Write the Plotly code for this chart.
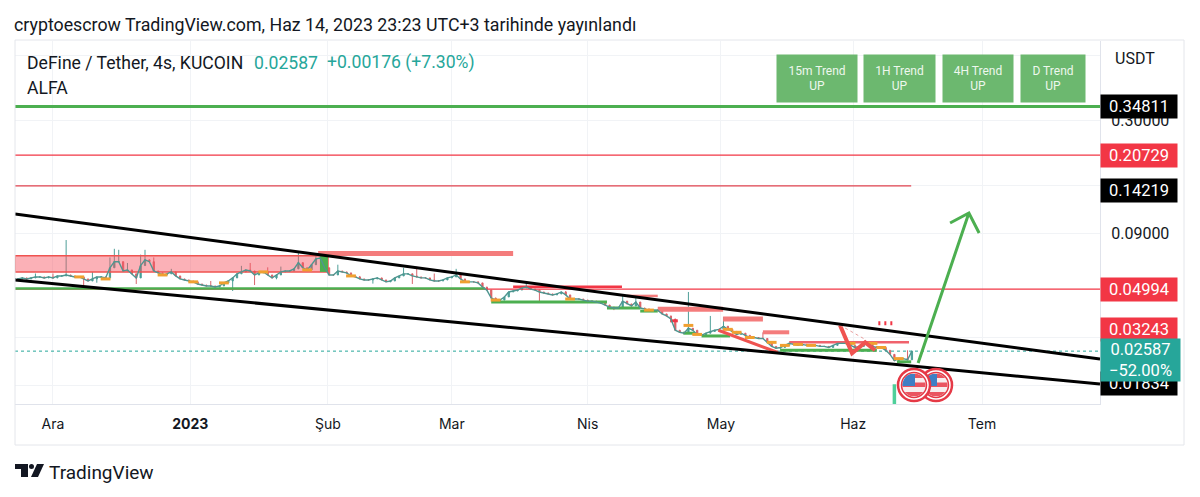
import math
import pandas as pd
import plotly.graph_objects as go

GREEN = '#4caf50'
RED = '#f23645'
TEAL = '#26a69a'
INK = '#131722'

# daily closes, Nov 23 2022 -> Jun 14 2023
closes = [
    .0557, .0563, .0557, .0563, .0569, .0569, .0563, .0569, .0563, .0575,
    .0575, .0581, .0575, .0569, .0569, .0557, .0545, .0557, .0569, .0569,
    .0563, .0627, .0669, .0669, .0606, .0613, .0588, .0563, .0642, .0682,
    .0669, .0606, .0594, .0581, .0588, .0600, .0575, .0557, .0551, .0545,
    .0540, .0528, .0522, .0517, .0517, .0511, .0517, .0534, .0545, .0563,
    .0588, .0600, .0613, .0606, .0581, .0594, .0600, .0581, .0563, .0581,
    .0600, .0606, .0606, .0620, .0662, .0627, .0613, .0648, .0689, .0695,
    .0627, .0581, .0581, .0606, .0600, .0594, .0575, .0569, .0557, .0551,
    .0551, .0557, .0563, .0551, .0540, .0545, .0563, .0575, .0588, .0588,
    .0575, .0569, .0563, .0563, .0551, .0545, .0545, .0551, .0563, .0569,
    .0581, .0557, .0540, .0540, .0540, .0534, .0511, .0495, .0455, .0445,
    .0445, .0460, .0485, .0490, .0495, .0506, .0511, .0500, .0495, .0485,
    .0480, .0475, .0470, .0475, .0485, .0470, .0450, .0450, .0450, .0445,
    .0440, .0440, .0436, .0431, .0422, .0413, .0409, .0409, .0440, .0427,
    .0418, .0436, .0409, .0405, .0400, .0400, .0400, .0384, .0376, .0364,
    .0323, .0316, .0313, .0330, .0323, .0309, .0306, .0313, .0319, .0323,
    .0326, .0337, .0326, .0319, .0309, .0313, .0306, .0299, .0299, .0296,
    .0296, .0284, .0272, .0267, .0269, .0275, .0281, .0278, .0275, .0278,
    .0275, .0275, .0275, .0272, .0272, .0269, .0275, .0281, .0281, .0281,
    .0275, .0269, .0272, .0278, .0281, .0272, .0269, .0269, .0261, .0250,
    .0234, .0239, .0239, .0236, .02587,
]
dates = list(pd.date_range('2022-11-23', periods=len(closes), freq='D'))

wick_highs = {'2022-11-27': .0590, '2022-12-01': .0590, '2022-12-04': .0842, '2022-12-10': .0600,
              '2022-12-14': .0700, '2022-12-15': .0767, '2022-12-16': .0759, '2022-12-18': .0660,
              '2022-12-21': .0721, '2022-12-22': .0759, '2022-12-24': .0700, '2022-12-28': .0620,
              '2023-01-06': .0545, '2023-01-13': .0640, '2023-01-15': .0660, '2023-01-19': .0630,
              '2023-01-22': .0635, '2023-01-26': .0743, '2023-01-30': .0730, '2023-01-31': .0743,
              '2023-02-04': .0648, '2023-02-09': .0575, '2023-02-19': .0627, '2023-02-22': .0634,
              '2023-02-26': .0590, '2023-03-03': .0620, '2023-03-08': .0530, '2023-03-19': .0535,
              '2023-03-28': .0490, '2023-04-10': .0465, '2023-04-13': .0460, '2023-04-25': .0485,
              '2023-04-30': .0376, '2023-05-03': .0372, '2023-05-12': .0316, '2023-06-14': .0261}
wick_lows = {'2022-12-08': .0517, '2022-12-11': .0535, '2022-12-20': .0528, '2023-01-11': .0490,
             '2023-01-16': .0522, '2023-01-21': .0555, '2023-02-12': .0530, '2023-02-21': .0528,
             '2023-03-22': .0436, '2023-04-08': .0400}

orange_dates = ['2022-12-07', '2022-12-13', '2022-12-26', '2023-01-02', '2023-01-09', '2023-01-18',
                '2023-01-28', '2023-02-07', '2023-03-05', '2023-03-12', '2023-03-29', '2023-04-16',
                '2023-04-25', '2023-04-27', '2023-05-04', '2023-05-06', '2023-05-09', '2023-05-14',
                '2023-05-17', '2023-05-20', '2023-05-23', '2023-06-01', '2023-06-06', '2023-06-08',
                '2023-06-12']
orange_prices = [.0569, .0557, .0581, .0540, .0534, .0600, .0613, .0575, .0540, .0445, .0450, .0400,
                 .0340, .0309, .0326, .0316, .0299, .0284, .0275, .0278, .0275, .0281, .0281, .0269,
                 .0239]

start = '2022-11-22 08:00'
end = '2023-07-27 22:00'

upper_channel = [.1110, .0238]
lower_channel = [.0551, .01825]

# dates, prices, colour, width
red_bars = [
    (['2023-01-30 12:00', '2023-03-16'], [.0730, .0730], '#f47c7c', 5),
    (['2023-03-16', '2023-04-09 20:00'], [.0512, .0512], RED, 2.5),
    (['2023-04-11', '2023-04-18'], [.0465, .0465], '#f47c7c', 2.5),
    (['2023-04-18', '2023-05-02 22:00'], [.0404, .0404], '#f47c7c', 5),
    (['2023-04-20 20:00', '2023-04-22 14:00'], [.0357, .0357], RED, 3),
    (['2023-05-02 22:00', '2023-05-12'], [.0364, .0364], '#f47c7c', 5),
    (['2023-05-12', '2023-05-18'], [.0316, .0316], '#f47c7c', 4),
    (['2023-05-18', '2023-06-14 08:00'], [.0284, .0284], '#f0626c', 2.5),
]
green_bars = [
    (['2023-03-11', '2023-04-06 10:00'], [.0436, .0436]),
    (['2023-04-06 10:00', '2023-04-14'], [.0409, .0409]),
    (['2023-04-14', '2023-04-18'], [.0396, .0396]),
    (['2023-04-23 20:00', '2023-04-26 12:00'], [.0313, .0313]),
    (['2023-04-28', '2023-05-04 12:00'], [.0304, .0304]),
    (['2023-05-15 22:00', '2023-06-07'], [.0261, .0261]),
    (['2023-06-11 14:00', '2023-06-14 20:00'], [.0231, .0231]),
]
slide_dates = ['2023-05-01 20:00', '2023-05-15 10:00']
slide_prices = [.0323, .0255]
zigzag_dates = ['2023-05-29 14:00', '2023-06-01 08:00', '2023-06-04 08:00', '2023-06-06 14:00']
zigzag_prices = [.0341, .0253, .0284, .0261]
arrow_dates = ['2023-06-16 10:00', '2023-06-28', '2023-06-23 17:00', '2023-06-28', '2023-06-30 08:00']
arrow_prices = [.0228, .1122, .1009, .1122, .0907]

levels = [.20729, .04994]
upper_level = .1495
tag_values = ['0.34811', '0.20729', '0.14219', '0.04994', '0.03243', '0.01834']
tag_colors = ['#000000', RED, '#000000', RED, RED, '#000000']
tick_dates = ['2022-12-01', '2023-01-01 08:00', '2023-02-01 18:00', '2023-03-02',
              '2023-04-02', '2023-05-02 10:00', '2023-06-01 14:00', '2023-07-01']
tick_labels = ['Ara', '<b>2023</b>', 'Şub', 'Mar', 'Nis', 'May', 'Haz', 'Tem']
price_ticks = [.6, .3, .15, .09, .03, .018]
price_tick_labels = ['', '0.30000', '', '0.09000', '', '']
trend_labels = ['15m Trend<br>UP', '1H Trend<br>UP', '4H Trend<br>UP', 'D Trend<br>UP']
trend_boxes = [(777, 857), (864, 935), (943, 1013), (1021, 1085)]


# page pixels -> paper coords of the plot area
def px(x):
    return (x - 15) / 1085


def py(y):
    return (404 - y) / 363


opens = [closes[0]] + closes[:-1]
highs = []
lows = []
for d, o, c in zip(dates, opens, closes):
    key = d.strftime('%Y-%m-%d')
    highs.append(max(o, c, wick_highs.get(key, 0)))
    lows.append(min(o, c, wick_lows.get(key, 1)))

traces = []


def line(x, y, color, width, dash=None):
    traces.append(go.Scatter(x=x, y=y, mode='lines', line=dict(color=color, width=width, dash=dash),
                             hoverinfo='skip', showlegend=False))


# supply zone and its breakout block
traces.append(go.Scatter(x=[start, '2023-02-01 18:00', '2023-02-01 18:00', start, start],
                         y=[.0712, .0712, .0600, .0600, .0712], mode='lines', fill='toself',
                         fillcolor='rgba(247,82,95,0.45)', line=dict(color='#ef5350', width=1.5),
                         hoverinfo='skip', showlegend=False))
traces.append(go.Scatter(x=['2023-01-30 22:00', '2023-02-01 18:00', '2023-02-01 18:00', '2023-01-30 22:00'],
                         y=[.0712, .0712, .0600, .0600], mode='lines', fill='toself', fillcolor=GREEN,
                         line=dict(color=GREEN, width=0), hoverinfo='skip', showlegend=False))

line([start, end], [.02587, .02587], TEAL, 1, 'dot')
for level in levels:
    line([start, end], [level, level], RED, 1.2)
line([start, '2023-06-14 20:00'], [upper_level, upper_level], '#e0424e', 1.2)
line([start, end], [.34811, .34811], GREEN, 3)
line([start, '2023-03-09 14:00'], [.0503, .0503], GREEN, 2.5)

for x, y, color, width in red_bars:
    line(x, y, color, width)
for x, y in green_bars:
    line(x, y, GREEN, 3)

# close line under the candles, the 4h bars read as one continuous stroke
line(dates, closes, '#4f9690', 1.4)
# the extra early candle time sets plotly's narrow body width
traces.append(go.Candlestick(x=[dates[0] - pd.Timedelta(hours=14)] + dates,
                             open=[closes[0]] + opens, high=[closes[0]] + highs,
                             low=[closes[0]] + lows, close=[closes[0]] + closes,
                             increasing=dict(line=dict(color='#4f9f98', width=1), fillcolor=TEAL),
                             decreasing=dict(line=dict(color='#d9656b', width=1), fillcolor='#ef5350'),
                             hoverinfo='skip', showlegend=False))
traces.append(go.Scatter(x=orange_dates, y=orange_prices, mode='markers',
                         marker=dict(symbol='line-ew', size=7, line=dict(color='#f0a030', width=3)),
                         hoverinfo='skip', showlegend=False))

line(slide_dates, slide_prices, '#ef5350', 3)
line(zigzag_dates, zigzag_prices, '#ef5350', 4)
line(['2023-05-29 14:00', '2023-06-04 08:00'], [.0341, .0293], '#e8a0a0', 1, 'dot')
line(['2023-06-07 08:00', '2023-06-10 16:00'], [.0348, .0348], RED, 4, '2px,4px')
line([start, end], upper_channel, '#000000', 3)
line([start, end], lower_channel, '#000000', 3)
line(['2023-06-11', '2023-06-11'], [.01476, .0182], '#4fd09a', 3.5)
line(arrow_dates, arrow_prices, GREEN, 3)

fig = go.Figure(data=traces)

annotations = [
    dict(x=px(12), y=py(24), text='cryptoescrow TradingView.com, Haz 14, 2023 23:23 UTC+3 tarihinde yayınlandı',
         font=dict(size=17.8, color=INK)),
    dict(x=px(25), y=py(63), text='DeFine / Tether, 4s, KUCOIN', font=dict(size=17.6, color=INK)),
    dict(x=px(252), y=py(63), text='0.02587', font=dict(size=17.6, color=TEAL)),
    dict(x=px(325), y=py(63), text='+0.00176 (+7.30%)', font=dict(size=17.6, color=TEAL)),
    dict(x=px(25), y=py(88), text='ALFA', font=dict(size=17.6, color=INK)),
    dict(x=px(1113), y=py(59), text='USDT', font=dict(size=16, color=INK)),
    dict(x=px(47), y=py(472), text='TradingView', font=dict(size=19, color=INK)),
]
for a in annotations:
    a.update(xref='paper', yref='paper', xanchor='left', yanchor='middle', showarrow=False)

for label, (x0, x1) in zip(trend_labels, trend_boxes):
    annotations.append(dict(xref='paper', yref='paper', x=px((x0 + x1) / 2), y=py(78.5), text=label,
                            width=x1 - x0, height=47, bgcolor='#6cb86f', showarrow=False, align='center',
                            xanchor='center', yanchor='middle', borderpad=0,
                            font=dict(size=12, color='#eef7ee')))

for value, color in zip(tag_values, tag_colors):
    annotations.append(dict(xref='paper', yref='y', x=1.0, y=math.log10(float(value)), text=value,
                            xanchor='left', yanchor='middle', showarrow=False, width=76, height=23,
                            bgcolor=color, borderpad=0, align='center', font=dict(size=16.5, color='#ffffff')))
# current price tag hangs below its line
annotations.append(dict(xref='paper', yref='y', x=1.0, y=math.log10(.02587), yshift=-9,
                        text='0.02587<br>−52.00%', xanchor='left', yanchor='middle', showarrow=False,
                        width=79, height=42, bgcolor=TEAL, borderpad=0, align='center',
                        font=dict(size=16.5, color='#ffffff')))


def paper_path(points):
    return 'M ' + ' L '.join(f'{px(x):.5f} {py(y):.5f}' for x, y in points) + ' Z'


def disc_band(cx, cy, r, y0, y1, xmax=None):
    # part of a disc between two heights, as a polygon
    left = []
    right = []
    for i in range(9):
        y = y0 + (y1 - y0) * i / 8
        half = math.sqrt(max(r * r - (y - cy) ** 2, 0))
        left.append((cx - half, y))
        right.append((min(cx + half, xmax) if xmax else cx + half, y))
    return paper_path(left + right[::-1])


shapes = []


def add_flag(cx, cy):
    shapes.append(dict(type='circle', xref='paper', yref='paper', x0=px(cx - 16), x1=px(cx + 16),
                       y0=py(cy + 16), y1=py(cy - 16), fillcolor='#ffffff', line=dict(color='#e53946', width=2.5)))
    shapes.append(dict(type='circle', xref='paper', yref='paper', x0=px(cx - 12.5), x1=px(cx + 12.5),
                       y0=py(cy + 12.5), y1=py(cy - 12.5), fillcolor='#f7eeee', line=dict(color='#e53946', width=1.5)))
    for y0, y1 in [(-11, -7), (-2.5, 2), (7, 11)]:
        shapes.append(dict(type='path', xref='paper', yref='paper', path=disc_band(cx, cy, 11.5, cy + y0, cy + y1),
                           fillcolor='#ea5560', line=dict(width=0)))
    shapes.append(dict(type='path', xref='paper', yref='paper', path=disc_band(cx, cy, 11.5, cy - 11, cy + 1, cx + 1),
                       fillcolor='#3f7fc4', line=dict(width=0)))


add_flag(936, 385)
add_flag(914, 385)

# logo
shapes.append(dict(type='path', xref='paper', yref='paper', fillcolor=INK, line=dict(width=0),
                   path=paper_path([(15, 464), (28, 464), (28, 477), (21, 477), (21, 469), (15, 469)])))
shapes.append(dict(type='circle', xref='paper', yref='paper', x0=px(29), x1=px(34), y0=py(469), y1=py(464),
                   fillcolor=INK, line=dict(width=0)))
shapes.append(dict(type='path', xref='paper', yref='paper', fillcolor=INK, line=dict(width=0),
                   path=paper_path([(37, 464), (44, 464), (38, 477), (31, 477)])))
# chart frame and price scale edge
shapes.append(dict(type='rect', xref='paper', yref='paper', x0=px(15), x1=px(1184), y0=py(445), y1=py(40),
                   line=dict(color='#e4e6eb', width=1), fillcolor='rgba(0,0,0,0)'))

# the page body has an 8px margin, so the figure is 8px smaller each way
fig.update_layout(
    width=1192, height=489, autosize=False,
    margin=dict(l=7, r=100, t=33, b=93),
    paper_bgcolor='#ffffff', plot_bgcolor='#ffffff',
    font=dict(family='Roboto', color=INK),
    showlegend=False,
    annotations=annotations, shapes=shapes,
    xaxis=dict(type='date', range=[start, end], rangeslider=dict(visible=False),
               tickmode='array', tickvals=tick_dates, ticktext=tick_labels,
               tickfont=dict(family='Inter', size=14, color=INK), ticklabelstandoff=7, ticklen=0,
               showgrid=True, gridcolor='#f1f3f6', showline=True, linecolor='#e0e3eb', zeroline=False),
    yaxis=dict(type='log', side='right', range=[-1.831, -0.1567],
               tickmode='array', tickvals=price_ticks, ticktext=price_tick_labels,
               tickfont=dict(size=16, color=INK), ticklabelstandoff=7, ticklen=0,
               showgrid=True, gridcolor='#f1f3f6', showline=True, linecolor='#e0e3eb', zeroline=False),
)

fig.write_html('out.html')
